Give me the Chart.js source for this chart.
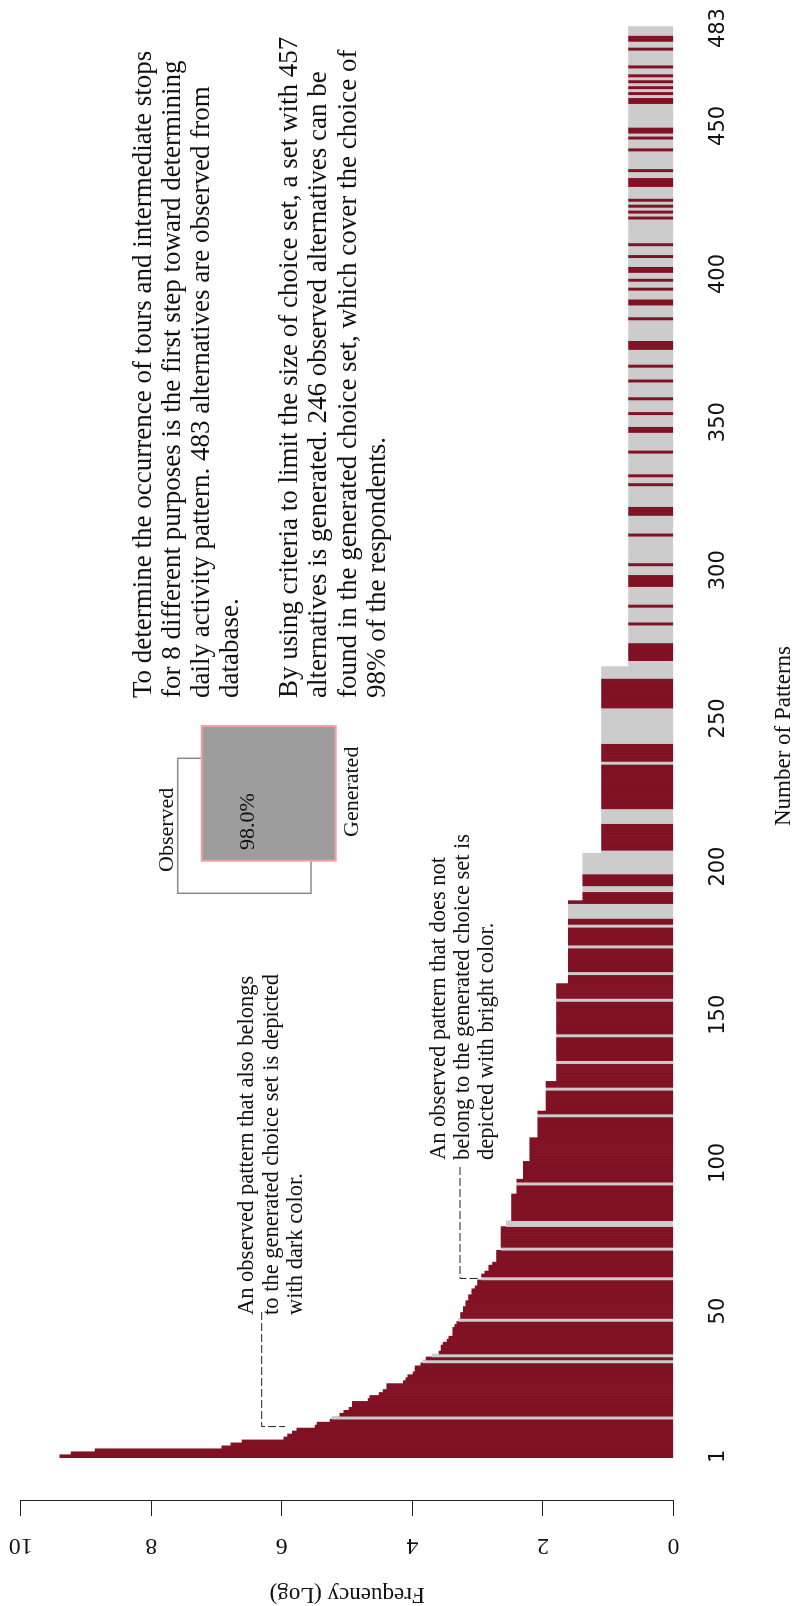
<!DOCTYPE html>
<html>
<head>
<meta charset="utf-8">
<script src="https://cdn.jsdelivr.net/npm/chart.js@4.4.1/dist/chart.umd.min.js"></script>
<style>
  html, body { margin: 0; padding: 0; background: #fff; }
  body { width: 796px; height: 1606px; overflow: hidden; position: relative; }
  /* the figure is laid out landscape and turned a quarter turn anticlockwise */
  #wrap { position: absolute; left: 0; top: 0; width: 1606px; height: 796px;
          transform-origin: 0 0; transform: translate(0, 1606px) rotate(-90deg); }
  canvas { display: block; }
</style>
</head>
<body>
<div id="wrap"><canvas id="chart" width="1606" height="796"></canvas></div>
<script>
// log frequency of each observed pattern, ranked 1..483
const freqLog = [
  9.40, 9.23, 8.86, 6.92, 6.78, 6.61, 5.97, 5.91, 5.84, 5.77, // 1-10
  5.49, 5.46, 5.26, 5.23, 5.11, 5.05, 4.97, 4.92, 4.92, 4.68, // 11-20
  4.65, 4.51, 4.45, 4.39, 4.39, 4.14, 4.10, 4.07, 3.99, 3.96, // 21-30
  3.96, 3.87, 3.84, 3.79, 3.70, 3.59, 3.56, 3.56, 3.53, 3.47, // 31-40
  3.44, 3.38, 3.38, 3.38, 3.35, 3.32, 3.30, 3.26, 3.26, 3.22, // 41-50
  3.22, 3.18, 3.18, 3.14, 3.14, 3.09, 3.09, 3.04, 3.00, 3.00, // 51-60
  2.94, 2.94, 2.89, 2.83, 2.83, 2.77, 2.71, 2.71, 2.71, 2.71, // 61-70
  2.64, 2.64, 2.64, 2.64, 2.64, 2.64, 2.64, 2.64, 2.56, 2.56, // 71-80
  2.48, 2.48, 2.48, 2.48, 2.48, 2.48, 2.48, 2.48, 2.48, 2.40, // 81-90
  2.40, 2.40, 2.40, 2.40, 2.30, 2.30, 2.30, 2.30, 2.30, 2.30, // 91-100
  2.20, 2.20, 2.20, 2.20, 2.20, 2.20, 2.20, 2.20, 2.08, 2.08, // 101-110
  2.08, 2.08, 2.08, 2.08, 2.08, 2.08, 2.08, 1.95, 1.95, 1.95, // 111-120
  1.95, 1.95, 1.95, 1.95, 1.95, 1.95, 1.95, 1.79, 1.79, 1.79, // 121-130
  1.79, 1.79, 1.79, 1.79, 1.79, 1.79, 1.79, 1.79, 1.79, 1.79, // 131-140
  1.79, 1.79, 1.79, 1.79, 1.79, 1.79, 1.79, 1.79, 1.79, 1.79, // 141-150
  1.79, 1.79, 1.79, 1.79, 1.79, 1.79, 1.79, 1.79, 1.79, 1.79, // 151-160
  1.61, 1.61, 1.61, 1.61, 1.61, 1.61, 1.61, 1.61, 1.61, 1.61, // 161-170
  1.61, 1.61, 1.61, 1.61, 1.61, 1.61, 1.61, 1.61, 1.61, 1.61, // 171-180
  1.61, 1.61, 1.61, 1.61, 1.61, 1.61, 1.61, 1.61, 1.39, 1.39, // 181-190
  1.39, 1.39, 1.39, 1.39, 1.39, 1.39, 1.39, 1.39, 1.39, 1.39, // 191-200
  1.39, 1.39, 1.39, 1.39, 1.10, 1.10, 1.10, 1.10, 1.10, 1.10, // 201-210
  1.10, 1.10, 1.10, 1.10, 1.10, 1.10, 1.10, 1.10, 1.10, 1.10, // 211-220
  1.10, 1.10, 1.10, 1.10, 1.10, 1.10, 1.10, 1.10, 1.10, 1.10, // 221-230
  1.10, 1.10, 1.10, 1.10, 1.10, 1.10, 1.10, 1.10, 1.10, 1.10, // 231-240
  1.10, 1.10, 1.10, 1.10, 1.10, 1.10, 1.10, 1.10, 1.10, 1.10, // 241-250
  1.10, 1.10, 1.10, 1.10, 1.10, 1.10, 1.10, 1.10, 1.10, 1.10, // 251-260
  1.10, 1.10, 1.10, 1.10, 1.10, 1.10, 1.10, 0.69, 0.69, 0.69, // 261-270
  0.69, 0.69, 0.69, 0.69, 0.69, 0.69, 0.69, 0.69, 0.69, 0.69, // 271-280
  0.69, 0.69, 0.69, 0.69, 0.69, 0.69, 0.69, 0.69, 0.69, 0.69, // 281-290
  0.69, 0.69, 0.69, 0.69, 0.69, 0.69, 0.69, 0.69, 0.69, 0.69, // 291-300
  0.69, 0.69, 0.69, 0.69, 0.69, 0.69, 0.69, 0.69, 0.69, 0.69, // 301-310
  0.69, 0.69, 0.69, 0.69, 0.69, 0.69, 0.69, 0.69, 0.69, 0.69, // 311-320
  0.69, 0.69, 0.69, 0.69, 0.69, 0.69, 0.69, 0.69, 0.69, 0.69, // 321-330
  0.69, 0.69, 0.69, 0.69, 0.69, 0.69, 0.69, 0.69, 0.69, 0.69, // 331-340
  0.69, 0.69, 0.69, 0.69, 0.69, 0.69, 0.69, 0.69, 0.69, 0.69, // 341-350
  0.69, 0.69, 0.69, 0.69, 0.69, 0.69, 0.69, 0.69, 0.69, 0.69, // 351-360
  0.69, 0.69, 0.69, 0.69, 0.69, 0.69, 0.69, 0.69, 0.69, 0.69, // 361-370
  0.69, 0.69, 0.69, 0.69, 0.69, 0.69, 0.69, 0.69, 0.69, 0.69, // 371-380
  0.69, 0.69, 0.69, 0.69, 0.69, 0.69, 0.69, 0.69, 0.69, 0.69, // 381-390
  0.69, 0.69, 0.69, 0.69, 0.69, 0.69, 0.69, 0.69, 0.69, 0.69, // 391-400
  0.69, 0.69, 0.69, 0.69, 0.69, 0.69, 0.69, 0.69, 0.69, 0.69, // 401-410
  0.69, 0.69, 0.69, 0.69, 0.69, 0.69, 0.69, 0.69, 0.69, 0.69, // 411-420
  0.69, 0.69, 0.69, 0.69, 0.69, 0.69, 0.69, 0.69, 0.69, 0.69, // 421-430
  0.69, 0.69, 0.69, 0.69, 0.69, 0.69, 0.69, 0.69, 0.69, 0.69, // 431-440
  0.69, 0.69, 0.69, 0.69, 0.69, 0.69, 0.69, 0.69, 0.69, 0.69, // 441-450
  0.69, 0.69, 0.69, 0.69, 0.69, 0.69, 0.69, 0.69, 0.69, 0.69, // 451-460
  0.69, 0.69, 0.69, 0.69, 0.69, 0.69, 0.69, 0.69, 0.69, 0.69, // 461-470
  0.69, 0.69, 0.69, 0.69, 0.69, 0.69, 0.69, 0.69, 0.69, 0.69, // 471-480
  0.69, 0.69, 0.69                                            // 481-483
];

// 1 = pattern also in the generated choice set (dark), 0 = not (bright)
const inGenerated = (
  "1111111111 1110111111 1111111111 1101011111 1111110111 " + //   1-50
  "1111111111 0111111111 0111111100 1111111111 1101111111 " + //  51-100
  "1111111111 1111101111 1111011111 1110111111 1101111111 " + // 101-150
  "1111011111 1110111111 1101111110 1100000111 1001111000 " + // 151-200
  "0000011111 1111000001 1111111111 1111011111 1000000000 " + // 201-250
  "0001111111 1110000001 1111100000 0100000100 0000111100 " + // 251-300
  "0100000000 0100000011 1000000010 0100000001 0000001100 " + // 301-350
  "0010000100 0001000010 0000111000 0000100001 1000100100 " + // 351-400
  "1100010001 0000000010 1010100001 1100100000 0100010110 " + // 401-450
  "0000000110 1010101001 0000010011 000"                      // 451-483
).replace(/ /g, '').split('');

const patternTicks = [1, 50, 100, 150, 200, 250, 300, 350, 400, 450, 483];

const noteLines = [
  'To determine the occurrence of tours and intermediate stops',
  'for 8 different purposes is the first step toward determining',
  'daily activity pattern. 483 alternatives are observed from',
  'database.',
  '',
  'By using criteria to limit the size of choice set, a set with 457',
  'alternatives is generated. 246 observed alternatives can be',
  'found in the generated choice set, which cover the choice of',
  '98% of the respondents.'
];
const darkNote = ['An observed pattern that also belongs', 'to the generated choice set is depicted', 'with dark color.'];
const brightNote = ['An observed pattern that does not', 'belong to the generated choice set is', 'depicted with bright color.'];

const darkRed = '#801224';
const lightGray = '#cccccc';
const serif = "'Liberation Serif', 'Times New Roman', serif";

function drawLines(ctx, lines, u, v0, step, size) {
    ctx.font = `${size}px ${serif}`;
    ctx.textAlign = 'left';
    ctx.textBaseline = 'alphabetic';
    lines.forEach((line, i) => ctx.fillText(line, u, v0 + i * step));
}

function leader(ctx, fromU, v, toU, toV) {
    ctx.save();
    ctx.strokeStyle = '#222';
    ctx.lineWidth = 1;
    ctx.setLineDash([8, 3]);
    ctx.beginPath();
    ctx.moveTo(fromU, v);
    ctx.lineTo(toU, v);
    ctx.lineTo(toU, toV);
    ctx.stroke();
    ctx.restore();
}

const notesPlugin = {
    id: 'notes',
    afterDraw(chart) {
        const ctx = chart.ctx;
        const xs = chart.scales.x;
        const ys = chart.scales.y;
        ctx.save();
        ctx.fillStyle = '#111';

        // pattern rank labels
        ctx.font = '21px "DejaVu Sans", sans-serif';
        ctx.textAlign = 'center';
        ctx.textBaseline = 'alphabetic';
        patternTicks.forEach(t => ctx.fillText(String(t), xs.getPixelForValue(t), 724));

        // value labels run along the axis, like the axis title
        ctx.font = `24px ${serif}`;
        ctx.textBaseline = 'middle';
        ys.ticks.forEach(t => {
            ctx.save();
            ctx.translate(61, ys.getPixelForValue(t.value));
            ctx.rotate(-Math.PI / 2);
            ctx.fillText(String(t.value), 0, 0);
            ctx.restore();
        });

        drawLines(ctx, noteLines, 908, 150.5, 29.3, 27);
        drawLines(ctx, darkNote, 291, 253, 24.5, 22.5);
        drawLines(ctx, brightNote, 446, 445, 24, 22.5);

        leader(ctx, 294, 261.7, xs.getPixelForValue(11), 285);
        leader(ctx, 439, 460, xs.getPixelForValue(61), 479);

        // observed / generated overlap sketch
        ctx.strokeStyle = '#8a8a8a';
        ctx.lineWidth = 1.5;
        ctx.strokeRect(712.7, 177.7, 135, 133.3);
        ctx.fillStyle = '#9d9d9d';
        ctx.fillRect(745.3, 201.7, 134.7, 134);
        ctx.strokeStyle = '#f4a0a4';
        ctx.lineWidth = 2;
        ctx.strokeRect(745.3, 201.7, 134.7, 134);

        ctx.fillStyle = '#111';
        ctx.textAlign = 'left';
        ctx.textBaseline = 'alphabetic';
        ctx.font = `22px ${serif}`;
        ctx.fillText('Observed', 734, 173);
        ctx.fillText('Generated', 769, 358);
        ctx.fillText('98.0%', 756, 254);

        ctx.font = `23px ${serif}`;
        ctx.textAlign = 'center';
        ctx.fillText('Number of Patterns', 870, 790);
        ctx.restore();
    }
};

new Chart(document.getElementById('chart'), {
    type: 'bar',
    data: {
        datasets: [{
            data: freqLog.map((v, i) => ({ x: i + 1, y: v })),
            backgroundColor: inGenerated.map(c => c === '1' ? darkRed : lightGray),
            borderWidth: 0,
            barPercentage: 1,
            categoryPercentage: 1
        }]
    },
    options: {
        responsive: false,
        animation: false,
        devicePixelRatio: 1,
        layout: { padding: { left: 0, right: 10, top: 20.7, bottom: 0 } },
        plugins: { legend: { display: false }, tooltip: { enabled: false } },
        scales: {
            x: {
                type: 'linear',
                min: -14.12,
                max: 489.1,
                offset: false,
                grid: { display: false, drawTicks: false },
                border: { display: false },
                afterBuildTicks: s => { s.ticks = patternTicks.map(v => ({ value: v })); },
                ticks: { display: false },
                afterFit: s => { s.height = 122.5; s.paddingLeft = 0; s.paddingRight = 0; }
            },
            y: {
                min: 0,
                max: 10,
                ticks: { stepSize: 2, display: false },
                grid: { drawOnChartArea: false, drawTicks: true, tickLength: 15, color: '#222', lineWidth: 1 },
                border: { display: true, color: '#222', width: 1 },
                title: {
                    display: true, text: 'Frequency (Log)', color: '#111', padding: 0,
                    font: { family: 'Liberation Serif', size: 23, lineHeight: 1.04 }
                },
                afterFit: s => { s.width = 105; s.paddingTop = 0; s.paddingBottom = 0; }
            }
        }
    },
    plugins: [notesPlugin]
});
</script>
</body>
</html>
